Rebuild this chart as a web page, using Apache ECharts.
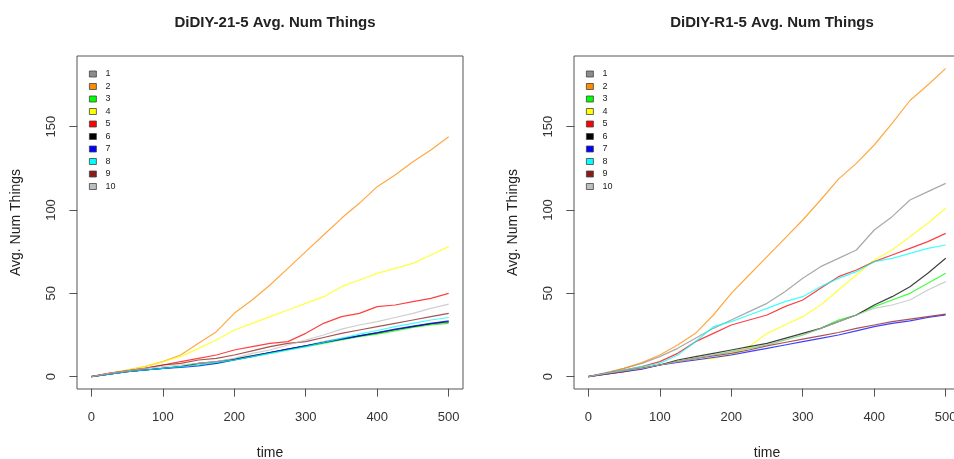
<!DOCTYPE html>
<html>
<head>
<meta charset="utf-8">
<script src="https://cdn.jsdelivr.net/npm/echarts@6/dist/echarts.min.js"></script>
<style>
  html, body { margin: 0; padding: 0; background: #fff; }
  #chart { width: 954px; height: 459px; }
</style>
</head>
<body>
<div id="chart"></div>
<script>
// time steps sampled every 25
var time = [0, 25, 50, 75, 100, 125, 150, 175, 200, 225, 250, 275, 300, 325, 350, 375, 400, 425, 450, 475, 500];
var names = ['1', '2', '3', '4', '5', '6', '7', '8', '9', '10'];

// DiDIY-21-5
var left1 = [0, 1.5, 3, 4, 5, 6, 8, 8.5, 10.5, 12.5, 14.5, 16.5, 18.5, 21, 23, 24.5, 26, 28, 30, 31.5, 32.5];
var left2 = [0, 2, 4, 6, 9, 13, 20, 27, 38, 46, 55, 65, 75, 85, 95, 104, 114, 121, 129, 136, 144];
var left3 = [0, 1.5, 3, 4, 5, 6, 7, 8, 10, 12, 14, 16, 18, 20, 22, 24, 25.5, 27.5, 29.5, 31, 32];
var left4 = [0, 2, 4, 6, 9, 12, 17, 22, 28, 32, 36, 40, 44, 48, 54, 58, 62, 65, 68, 73, 78];
var left5 = [0, 2, 3.5, 5, 7, 9, 11, 13, 16, 18, 20, 21, 26, 32, 36, 38, 42, 43, 45, 47, 50];
var left6 = [0, 1.5, 3, 4, 5, 6, 8, 9, 10.5, 12.5, 14.5, 16.5, 18.5, 20.5, 22.5, 24.5, 26.3, 28.3, 30, 31.8, 33];
var left7 = [0, 1.5, 3, 4, 5, 5.5, 6.5, 8, 10, 12, 14.5, 16.5, 18.5, 20.5, 22.5, 24.5, 26.5, 28.5, 30.3, 32, 33.5];
var left8 = [0, 1.5, 3, 4, 5, 6, 7, 8.5, 10, 12, 14, 16, 18, 20.5, 23, 25.5, 27.7, 30, 32, 34, 35.5];
var left9 = [0, 2, 3.5, 5, 7, 8, 10, 11, 13, 15.5, 18, 20, 21, 23.5, 26, 28, 30, 32, 34, 36, 38];
var left10 = [0, 2, 3.5, 5, 6, 7, 8, 9, 11, 14, 16, 19, 22, 25, 28.5, 31, 33, 35.5, 38, 41, 43.5];

// DiDIY-R1-5
var right1 = [0, 2.5, 5, 8, 12, 17, 23, 29, 34, 39, 44, 51, 59, 66, 71, 76, 88, 96, 106, 111, 116];
var right2 = [0, 2, 5, 8.5, 13, 19, 26, 37, 50, 61, 72, 83, 94, 106, 118.5, 128, 139, 152, 165.7, 175, 185];
var right3 = [0, 2, 3.5, 5, 7, 9, 11, 13, 15, 17, 19, 22, 25, 29, 34, 37, 42, 46, 50, 56, 62];
var right4 = [0, 2, 4, 5.5, 7, 9, 10, 11, 13, 18, 26, 31, 36, 43, 52, 61, 70, 76, 84, 92, 101];
var right5 = [0, 2, 4, 6, 9, 14, 21, 26, 31, 34, 37, 42, 46, 53, 60, 64, 69, 73, 77, 81, 86];
var right6 = [0, 2, 3.5, 5, 7, 10, 12, 14, 16, 18, 20, 23, 26, 29, 33, 37, 43, 48, 54, 62, 71];
var right7 = [0, 1.5, 3, 4.5, 7, 8.5, 10, 11.5, 13, 15, 17, 19, 21, 23, 25, 27.5, 30, 32, 33.5, 35.5, 37];
var right8 = [0, 2, 4, 6, 8, 13, 21, 30, 33, 37, 41, 45, 48, 54, 59, 63, 69, 71, 74, 77, 79];
var right9 = [0, 1.5, 3, 5, 7, 9, 11, 12.5, 14, 16, 18.5, 20.5, 22.5, 24.5, 26.5, 29, 31, 33, 34.5, 36, 37.5];
var right10 = [0, 2, 3.5, 5, 7, 9, 11, 13, 15, 17, 19, 22, 25, 29, 33, 37, 41, 43, 46, 52, 57];

var colors = ['#8c8c8c', '#ff8c00', '#00ff00', '#ffff00', '#ff0000', '#000000', '#0000ff', '#00ffff', '#8b1a1a', '#bebebe'];

var leftData = [left1, left2, left3, left4, left5, left6, left7, left8, left9, left10];
var rightData = [right1, right2, right3, right4, right5, right6, right7, right8, right9, right10];

// R-style ranges: data range padded by 4% on each side, ticks only on 0..500 / 0..150
var xMin = -20, xMax = 520, xTickMax = 500;
var yMin = -7.4, yMax = 192.4, yTickMax = 150;
var boxTop = 56, boxW = 386, boxH = 333;
var boxLefts = [77, 574];
var tickLen = 8;

var dom = document.getElementById('chart');
var myChart = echarts.init(dom);
var option;

function pairs(vals) {
  return vals.map(function (v, i) { return [time[i], v]; });
}

var font = 'Liberation Sans';
var grids = [], xAxes = [], yAxes = [];
var hidden = { axisLine: { show: false }, axisTick: { show: false }, axisLabel: { show: false }, splitLine: { show: false } };
var wideBounds = { left: -60, top: -60, right: -60, bottom: -60 };

boxLefts.forEach(function (bl, g) {
  // data grid with the box; carries the axis titles
  grids.push({ left: bl, top: boxTop, width: boxW, height: boxH, show: true, borderColor: '#555', borderWidth: 1,
    backgroundColor: 'transparent', outerBoundsMode: 'none' });
  xAxes.push(Object.assign({ type: 'value', gridIndex: g, min: xMin, max: xMax,
    name: 'time', nameLocation: 'middle', nameGap: 57,
    nameTextStyle: { fontSize: 14, color: '#222', fontFamily: font } }, hidden));
  yAxes.push(Object.assign({ type: 'value', gridIndex: g, min: yMin, max: yMax,
    name: 'Avg. Num Things', nameLocation: 'middle', nameGap: 54,
    nameTextStyle: { fontSize: 14, color: '#222', fontFamily: font } }, hidden));
});

// tick grids: the tick axis sits "on zero" of a hidden partner axis whose zero is at the box edge
boxLefts.forEach(function (bl, g) {
  var gl = bl + (0 - xMin) / (xMax - xMin) * boxW;
  var gw = (xTickMax - 0) / (xMax - xMin) * boxW;
  var gt = boxTop + (yMax - yTickMax) / (yMax - yMin) * boxH;
  var gh = (yTickMax - 0) / (yMax - yMin) * boxH;

  var xi = grids.length;
  grids.push({ left: gl, top: boxTop, width: gw, height: boxH, show: false, outerBounds: wideBounds });
  xAxes.push({
    type: 'value', gridIndex: xi, min: 0, max: xTickMax, interval: 100,
    splitLine: { show: false },
    axisLine: { show: false },
    axisTick: { show: true, length: tickLen, lineStyle: { color: '#555', width: 1 } },
    axisLabel: { margin: 22, fontSize: 13, color: '#333', fontFamily: font }
  });
  yAxes.push(Object.assign({ type: 'value', gridIndex: xi, min: -0.001, max: 1 }, hidden));

  var yi = grids.length;
  grids.push({ left: bl, top: gt, width: boxW, height: gh, show: false, outerBounds: wideBounds });
  xAxes.push(Object.assign({ type: 'value', gridIndex: yi, min: -0.001, max: 1 }, hidden));
  yAxes.push({
    type: 'value', gridIndex: yi, min: 0, max: yTickMax, interval: 50,
    splitLine: { show: false },
    axisLine: { show: false },
    axisTick: { show: true, length: tickLen, lineStyle: { color: '#555', width: 1 } },
    axisLabel: { rotate: 90, margin: 26, fontSize: 13, color: '#333', fontFamily: font, verticalAlign: 'middle', align: 'center' }
  });
});

function makeLegend(x) {
  return {
    data: names, orient: 'vertical', left: x, top: 64,
    icon: 'rect', itemWidth: 7, itemHeight: 6, itemGap: 2.5,
    itemStyle: { borderColor: '#444', borderWidth: 0.8 },
    textStyle: { fontSize: 9, lineHeight: 10, color: '#222', padding: [0, 0, 0, 4], fontFamily: font },
    selectedMode: false
  };
}

var series = [];
[leftData, rightData].forEach(function (set, g) {
  set.forEach(function (vals, i) {
    series.push({
      name: names[i], type: 'line', xAxisIndex: g, yAxisIndex: g,
      data: pairs(vals), showSymbol: false, color: colors[i],
      lineStyle: { width: 1.2, opacity: 0.75 }
    });
  });
});

option = {
  animation: false,
  backgroundColor: '#fff',
  title: [
    { text: 'DiDIY-21-5 Avg. Num Things', left: 270, top: 10, textAlign: 'center',
      textStyle: { fontSize: 15, fontWeight: 'bold', color: '#222', fontFamily: font } },
    { text: 'DiDIY-R1-5 Avg. Num Things', left: 767, top: 10, textAlign: 'center',
      textStyle: { fontSize: 15, fontWeight: 'bold', color: '#222', fontFamily: font } }
  ],
  legend: [makeLegend(84), makeLegend(581)],
  grid: grids,
  xAxis: xAxes,
  yAxis: yAxes,
  series: series
};

option && myChart.setOption(option);
</script>
</body>
</html>
